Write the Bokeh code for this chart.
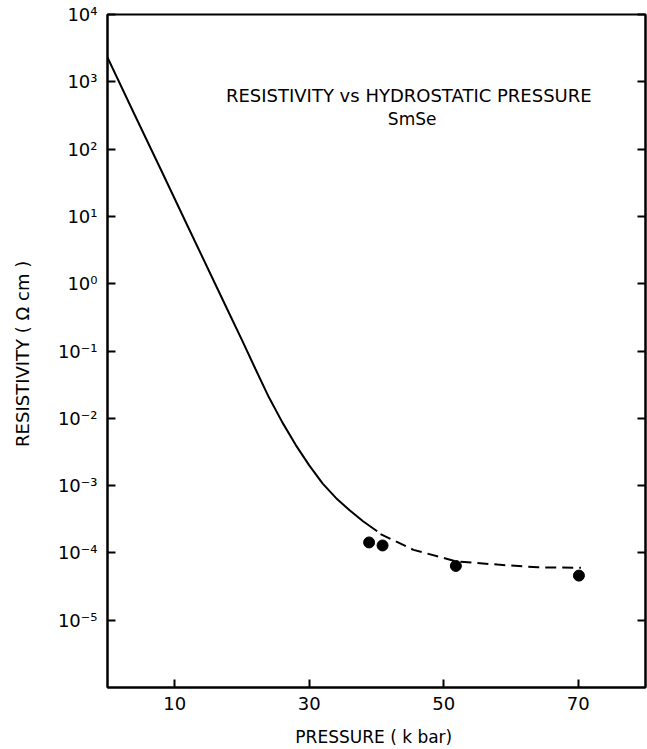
from bokeh.plotting import figure
from bokeh.models import Range1d, FixedTicker, LogAxis, CustomJSTickFormatter, Label
from bokeh.embed import file_html
from bokeh.resources import INLINE

# Solid curve (calculated) : pressure (kbar) vs resistivity (ohm cm)
curve_p = [0.0, 4.0, 8.0, 12.0, 16.0, 18.0, 20.0, 22.0, 24.0, 26.0, 28.0, 30.0,
           32.0, 34.0, 36.0, 38.0, 40.1]
curve_rho = [2.3e3, 330.0, 48.0, 6.9, 1.0, 0.38, 0.145, 5.4e-2, 2.05e-2, 8.7e-3,
             4.0e-3, 2.0e-3, 1.07e-3, 6.5e-4, 4.3e-4, 2.95e-4, 2.1e-4]

# Dashed continuation
dash_p = [40.6, 45.5, 51.8, 58.0, 64.0, 70.4]
dash_rho = [1.9e-4, 1.11e-4, 7.5e-5, 6.7e-5, 6.1e-5, 6.0e-5]

# Measured points
meas_p = [38.9, 40.9, 51.8, 70.1]
meas_rho = [1.43e-4, 1.29e-4, 6.4e-5, 4.6e-5]

x_ticks = [10, 30, 50, 70]
y_ticks = [1e-5, 1e-4, 1e-3, 1e-2, 1e-1, 1e0, 1e1, 1e2, 1e3, 1e4]

FONT = "DejaVu Sans"

p = figure(width=647, height=749, x_range=Range1d(0, 80), y_range=Range1d(1e-6, 1e4),
           y_axis_type="log", output_backend="svg", toolbar_location=None,
           min_border_left=107, min_border_top=14, min_border_right=2, min_border_bottom=60)
p.grid.visible = False
p.outline_line_color = "black"
p.outline_line_width = 2
p.background_fill_color = "white"
p.border_fill_color = "white"

sup_fmt = CustomJSTickFormatter(code="""
const e = Math.round(Math.log10(tick));
const m = {'0':'\u2070','1':'\u00b9','2':'\u00b2','3':'\u00b3','4':'\u2074','5':'\u2075','6':'\u2076','7':'\u2077','8':'\u2078','9':'\u2079','-':'\u207b'};
return '10' + String(e).split('').map(c => m[c]).join('');
""")

xa = p.xaxis[0]
xa.ticker = FixedTicker(ticks=x_ticks)
xa.major_tick_in = 8
xa.major_tick_out = 0
xa.minor_tick_line_color = None
xa.axis_line_width = 2
xa.major_tick_line_width = 2
xa.major_label_text_font = FONT
xa.major_label_text_font_size = "18px"
xa.major_label_text_color = "black"
xa.major_label_standoff = 9
xa.axis_label = "PRESSURE  ( k bar)"
xa.axis_label_text_font = FONT
xa.axis_label_text_font_style = "normal"
xa.axis_label_text_font_size = "17px"
xa.axis_label_text_color = "black"
xa.axis_label_standoff = 14

ya = p.yaxis[0]
ya.ticker = FixedTicker(ticks=y_ticks)
ya.formatter = sup_fmt
ya.major_tick_in = 8
ya.major_tick_out = 0
ya.minor_tick_line_color = None
ya.axis_line_width = 2
ya.major_tick_line_width = 2
ya.major_label_text_font = FONT
ya.major_label_text_font_size = "18px"
ya.major_label_text_color = "black"
ya.major_label_standoff = 10
ya.axis_label = "RESISTIVITY  ( \u03a9 cm )"
ya.axis_label_text_font = FONT
ya.axis_label_text_font_style = "normal"
ya.axis_label_text_font_size = "18px"
ya.axis_label_text_color = "black"
ya.axis_label_standoff = 22

ra = LogAxis(ticker=FixedTicker(ticks=y_ticks),
             formatter=CustomJSTickFormatter(code="return '';"))
ra.major_tick_in = 8
ra.major_tick_out = 0
ra.minor_tick_line_color = None
ra.axis_line_width = 2
ra.major_tick_line_width = 2
ra.major_label_text_font_size = "1px"
ra.major_label_standoff = 0
p.add_layout(ra, "right")

p.line(curve_p, curve_rho, line_color="black", line_width=2)
p.line(dash_p, dash_rho, line_color="black", line_width=2, line_dash="11 6")
p.scatter(meas_p, meas_rho, size=11, fill_color="black", line_color="black")

p.add_layout(Label(x=44.8, y=630, text="RESISTIVITY vs HYDROSTATIC PRESSURE",
                   text_align="center", text_baseline="middle",
                   text_font=FONT, text_font_size="18px", text_color="black"))
p.add_layout(Label(x=45.3, y=280, text="SmSe",
                   text_align="center", text_baseline="middle",
                   text_font=FONT, text_font_size="17px", text_color="black"))

open("out.html", "w").write(file_html(p, INLINE))
